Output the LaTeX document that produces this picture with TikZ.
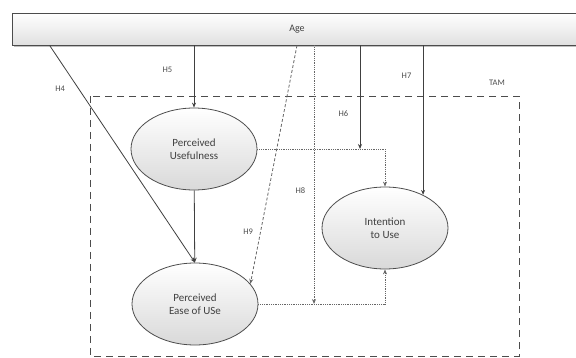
\documentclass[tikz,border=0pt]{standalone}
\usepackage{fontspec}
\setmainfont{Carlito}
\usetikzlibrary{shapes.geometric,arrows.meta,shadows}

\begin{document}
\begin{tikzpicture}[
  x=1pt, y=-1pt, >={Stealth[length=5pt,width=4pt]},
  construct/.style={ellipse, draw=black!70, thick, top color=white, bottom color=black!15,
    minimum width=126pt, minimum height=82pt, inner sep=0pt, align=center,
    font=\fontsize{11}{13}\selectfont, text=black!75},
  link/.style={->, thick, draw=black!75},
  modlink/.style={->, thick, draw=black!60, densely dotted},
  hyp/.style={font=\fontsize{8.5}{10}\selectfont, text=black!70},
]
\useasboundingbox (0,0) rectangle (576,358);

% research model frame
\draw[black!70, thick, dash pattern=on 7pt off 5pt] (90,96) rectangle (519,356);
\node[hyp] (tam) at (497,83) {TAM};

% moderator
\node[draw=black!70, thick, top color=white, bottom color=black!12, drop shadow,
  minimum width=570pt, minimum height=32pt, font=\fontsize{10}{12}\selectfont,
  text=black!75] (age) at (297,29) {Age};

% constructs
\node[construct] (pu) at (194,149) {Perceived\\Usefulness};
\node[construct] (peou) at (195,304) {Perceived\\Ease of USe};
\node[construct] (iu) at (385,228) {Intention\\to Use};

% TAM paths
\draw[link] (pu) -- (peou);
\draw[modlink] (pu.east) -| (iu.north);
\draw[modlink] (peou.east) -| (iu.south);

% age effects
\coordinate (h4s) at ([xshift=38pt]age.south west);
\coordinate (h6e) at (360,149);
\coordinate (h8e) at (314,304);
\draw[link] (h4s) -- (peou.north) node[hyp, pos=0.2, left=10pt] (h4) {H4};
\draw[link] (pu.north |- age.south) -- (pu.north) node[hyp, pos=0.4, left=18pt] (h5) {H5};
\draw[link, draw=black!60, densely dashed] (age.south) -- (peou.20) node[hyp, pos=0.78, left=4pt] (h9) {H9};
\draw[modlink] (age.south -| h8e) -- (h8e) node[hyp, pos=0.56, left=5pt] (h8) {H8};
\draw[link] (age.south -| h6e) -- (h6e) node[hyp, pos=0.66, left=8pt] (h6) {H6};
\draw[link] (iu.41 |- age.south) -- (iu.41) node[hyp, pos=0.2, left=8pt] (h7) {H7};
\end{tikzpicture}
\end{document}
